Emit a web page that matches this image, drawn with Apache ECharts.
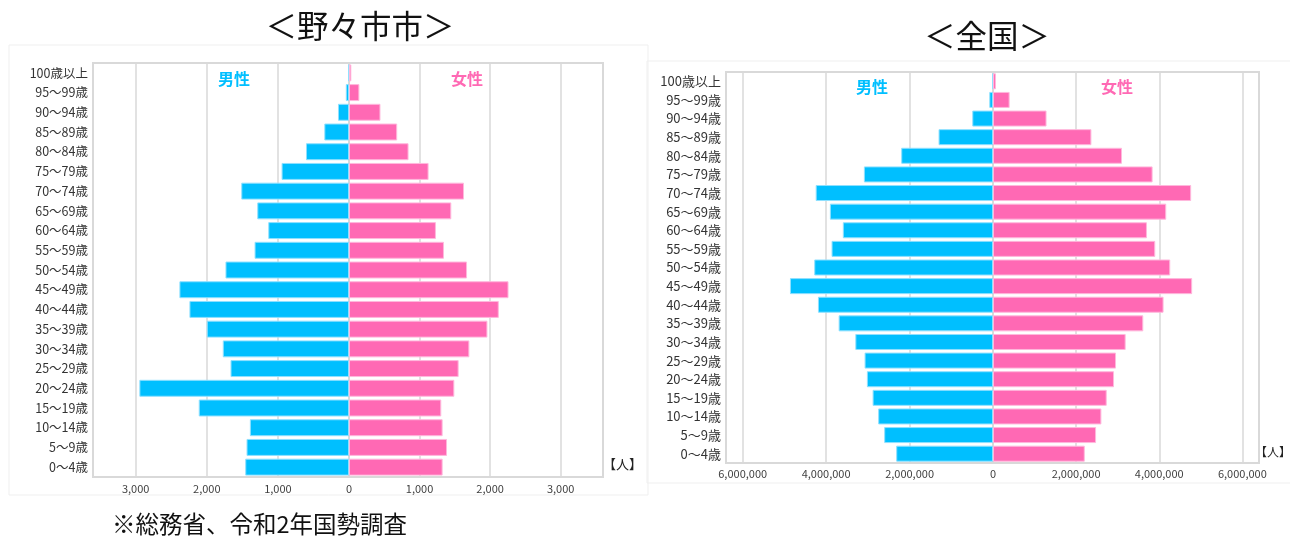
<!DOCTYPE html>
<html lang="ja">
<head>
<meta charset="utf-8">
<title>人口ピラミッド（野々市市・全国）</title>
<script src="https://cdn.jsdelivr.net/npm/echarts@6/dist/echarts.min.js"></script>
<style>
  html, body { margin: 0; padding: 0; background: #fff; }
  #chart { width: 1290px; height: 541px; }
</style>
</head>
<body>
<div id="chart"></div>
<script>
// 年齢階級（下から上へ）
const ageGroups = [
  '0～4歳', '5～9歳', '10～14歳', '15～19歳', '20～24歳', '25～29歳', '30～34歳',
  '35～39歳', '40～44歳', '45～49歳', '50～54歳', '55～59歳', '60～64歳', '65～69歳',
  '70～74歳', '75～79歳', '80～84歳', '85～89歳', '90～94歳', '95～99歳', '100歳以上'
];

// 野々市市（人）
const nonoichiMale = [
  1459, 1441, 1394, 2113, 2948, 1666, 1775, 2000, 2244, 2385, 1737,
  1328, 1135, 1290, 1515, 948, 605, 347, 155, 45, 8
];
const nonoichiFemale = [
  1327, 1389, 1327, 1308, 1493, 1554, 1706, 1962, 2123, 2261, 1673,
  1346, 1232, 1450, 1630, 1128, 844, 683, 446, 147, 33
];

// 全国（人）
const nationMale = [
  2320000, 2608000, 2752000, 2886000, 3023000, 3078000, 3300000, 3700000,
  4196000, 4867000, 4285000, 3870000, 3600000, 3910000, 4250000, 3095000,
  2200000, 1305000, 497000, 89000, 12000
];
const nationFemale = [
  2208000, 2480000, 2608000, 2736000, 2912000, 2960000, 3192000, 3616000,
  4104000, 4792000, 4264000, 3904000, 3704000, 4168000, 4768000, 3840000,
  3104000, 2368000, 1288000, 400000, 70000
];

// 軸の目盛り
const localAxis = { max: 3600, interval: 1000 };
const nationAxis = { max: 6400000, interval: 2000000 };

const FONT = '"Noto Sans CJK JP", "Noto Sans", sans-serif';
const MALE = '#00BFFF';
const FEMALE = '#FF69B4';
const GRID_LINE = '#d9d9d9';

const fmt = v => Number(v).toLocaleString('en-US');

function gridBox(left, top, width, height) {
  return {
    left, top, width, height,
    show: true, borderColor: GRID_LINE, borderWidth: 2,
    containLabel: false
  };
}

function valueAxis(gridIndex, axis, isMale, labelMargin) {
  return {
    type: 'value', gridIndex,
    inverse: isMale,
    min: 0, max: axis.max, interval: axis.interval,
    axisLine: { show: false },
    axisTick: { show: false },
    axisLabel: {
      formatter: fmt, color: '#404040', fontFamily: FONT, fontSize: 11,
      margin: labelMargin,
      showMaxLabel: false, showMinLabel: isMale
    },
    splitLine: { show: true, lineStyle: { color: GRID_LINE, width: 1.5 } }
  };
}

function categoryAxis(gridIndex, showLabels, fontSize) {
  return {
    type: 'category', gridIndex, data: ageGroups,
    axisLine: { show: false },
    axisTick: { show: false },
    axisLabel: {
      show: showLabels, color: '#333', fontFamily: FONT, fontSize,
      margin: 5, interval: 0
    }
  };
}

function barSeries(name, idx, data, color, border) {
  return {
    name, type: 'bar', xAxisIndex: idx, yAxisIndex: idx, data,
    barCategoryGap: '14%',
    itemStyle: { color, borderColor: border, borderWidth: 1 },
    silent: true
  };
}

const chart = echarts.init(document.getElementById('chart'), null, { renderer: 'canvas' });

chart.setOption({
  animation: false,
  backgroundColor: '#fff',
  textStyle: { fontFamily: FONT },
  title: [
    { text: '＜野々市市＞', left: 355, top: 5, textAlign: 'center',
      textStyle: { fontSize: 31.5, fontWeight: 'normal', color: '#111', fontFamily: FONT } },
    { text: '＜全国＞', left: 982, top: 15, textAlign: 'center',
      textStyle: { fontSize: 31.5, fontWeight: 'normal', color: '#111', fontFamily: FONT } }
  ],
  graphic: [
    { type: 'rect', shape: { x: 9, y: 45, width: 639, height: 450 }, silent: true,
      style: { fill: 'none', stroke: '#efefef', lineWidth: 1 }, z: -1 },
    { type: 'rect', shape: { x: 647, y: 61, width: 650, height: 422 }, silent: true,
      style: { fill: 'none', stroke: '#efefef', lineWidth: 1 }, z: -1 },
    { type: 'text', left: 218, top: 71, silent: true,
      style: { text: '男性', fill: MALE, font: 'bold 16px ' + FONT } },
    { type: 'text', left: 451, top: 71, silent: true,
      style: { text: '女性', fill: FEMALE, font: 'bold 16px ' + FONT } },
    { type: 'text', left: 856, top: 79, silent: true,
      style: { text: '男性', fill: MALE, font: 'bold 16px ' + FONT } },
    { type: 'text', left: 1101, top: 79, silent: true,
      style: { text: '女性', fill: FEMALE, font: 'bold 16px ' + FONT } },
    { type: 'text', left: 603, top: 458, silent: true,
      style: { text: '【人】', fill: '#222', font: '13px ' + FONT } },
    { type: 'text', left: 1255, top: 446, silent: true,
      style: { text: '【人】', fill: '#222', font: '12px ' + FONT } },
    { type: 'text', left: 112, top: 512, silent: true,
      style: { text: '※総務省、令和2年国勢調査', fill: '#111', font: '23.5px ' + FONT } }
  ],
  grid: [
    gridBox(93, 63, 256, 414),    // 野々市市 男性
    gridBox(349, 63, 254, 414),   // 野々市市 女性
    gridBox(726, 72, 267, 391),   // 全国 男性
    gridBox(993, 72, 266, 391)    // 全国 女性
  ],
  xAxis: [
    valueAxis(0, localAxis, true, 6),
    valueAxis(1, localAxis, false, 6),
    valueAxis(2, nationAxis, true, 5),
    valueAxis(3, nationAxis, false, 5)
  ],
  yAxis: [
    categoryAxis(0, true, 12.5),
    categoryAxis(1, false, 12.5),
    categoryAxis(2, true, 13),
    categoryAxis(3, false, 13)
  ],
  series: [
    barSeries('男性', 0, nonoichiMale, MALE, '#8fe0ff'),
    barSeries('女性', 1, nonoichiFemale, FEMALE, '#ffb8dc'),
    barSeries('男性', 2, nationMale, MALE, '#8fe0ff'),
    barSeries('女性', 3, nationFemale, FEMALE, '#ffb8dc')
  ]
});
</script>
</body>
</html>
